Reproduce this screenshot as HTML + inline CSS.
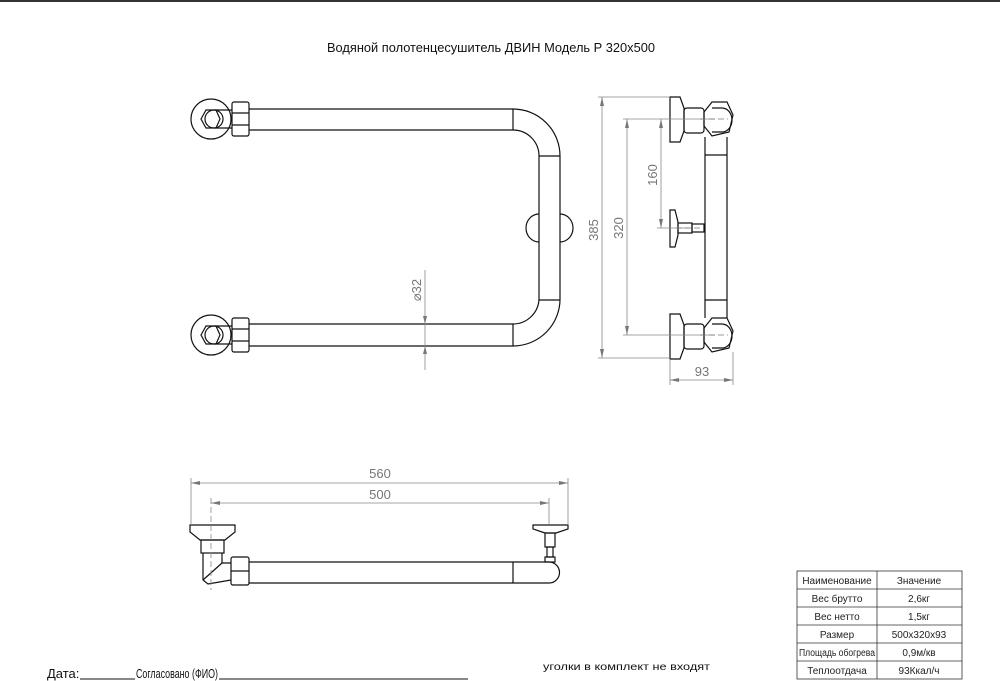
<!DOCTYPE html>
<html><head><meta charset="utf-8"><style>
html,body{margin:0;padding:0;background:#fff;width:1000px;height:681px;overflow:hidden}
svg{display:block}
.t{font-family:"Liberation Sans Narrow","Liberation Sans",sans-serif;}
</style></head><body>
<svg width="1000" height="681" viewBox="0 0 1000 681" xmlns="http://www.w3.org/2000/svg">
<rect x="0" y="0" width="1000" height="2" fill="#333"/>
<text class="t" x="491" y="52" font-size="13" text-anchor="middle" textLength="328" lengthAdjust="spacingAndGlyphs" fill="#111">Водяной полотенцесушитель ДВИН Модель Р 320х500</text>

<g fill="none" stroke="#111" stroke-width="1.2">
<!-- front view -->
<path d="M249 109 H513 A47 47 0 0 1 560 156 V298 A47 47 0 0 1 513 346 H249"/>
<path d="M249 130 H513 A26 26 0 0 1 539 156 V298 A26 26 0 0 1 513 324 H249"/>
<line x1="513" y1="109" x2="513" y2="130"/><line x1="513" y1="324" x2="513" y2="346"/>
<line x1="539" y1="156" x2="560" y2="156"/><line x1="539" y1="300" x2="560" y2="300"/>
<path d="M539 214 A13 14 0 0 0 539 242"/><path d="M560 214 A13 14 0 0 1 560 242"/>
<circle cx="211" cy="119" r="20"/><circle cx="211" cy="335" r="20"/>
<circle cx="214" cy="119" r="9"/><circle cx="214" cy="335" r="9"/>
<polygon points="201,119 206,110 216,110 220,119 216,128 206,128"/>
<polygon points="201,335 206,326 216,326 220,335 216,344 206,344"/>
<rect x="232" y="102" width="17" height="34" rx="2"/><rect x="232" y="318" width="17" height="34" rx="2"/>
<line x1="232" y1="113" x2="249" y2="113"/><line x1="232" y1="125" x2="249" y2="125"/>
<line x1="232" y1="329" x2="249" y2="329"/><line x1="232" y1="341" x2="249" y2="341"/>
<line x1="215" y1="110" x2="232" y2="110"/><line x1="215" y1="128" x2="232" y2="128"/>
<line x1="215" y1="326" x2="232" y2="326"/><line x1="215" y1="344" x2="232" y2="344"/>

<!-- side view -->
<path d="M670 97 H680 L684 108 V131 L680 142 H670 Z"/>
<path d="M670 314 H680 L684 325 V348 L680 359 H670 Z"/>
<rect x="684" y="108" width="20" height="25" rx="3"/><rect x="684" y="324" width="20" height="25" rx="3"/>
<polygon points="704,112 712,102 727,102 733,115 729,132 712,136 704,126"/>
<polygon points="704,328 712,318 727,318 733,331 729,348 712,352 704,342"/>
<path d="M712 108 H722 A10 12 0 0 1 722 132 H712"/><path d="M712 324 H722 A10 12 0 0 1 722 348 H712"/>
<line x1="705" y1="137" x2="705" y2="318"/><line x1="727" y1="137" x2="727" y2="318"/>
<line x1="705" y1="155" x2="727" y2="155"/><line x1="705" y1="300" x2="727" y2="300"/>
<path d="M670 210 H675 L678 222 V235 L675 247 H670 Z"/>
<rect x="678" y="223" width="14" height="10"/><rect x="692" y="224" width="12" height="8"/>

<!-- bottom view -->
<path d="M249 562 H549 A10.5 10.5 0 0 1 549 583 H249"/>
<line x1="513" y1="562" x2="513" y2="583"/>
<rect x="231" y="557" width="18" height="28" rx="2"/>
<line x1="231" y1="571" x2="249" y2="571"/>
<path d="M190 525 H235 V532 L225 540 H200 L190 532 Z"/>
<rect x="201" y="540" width="23" height="13"/>
<path d="M203 553 V580 L208 584 L231 580"/><path d="M222 553 V563 L231 563"/>
<line x1="203" y1="580" x2="222" y2="563"/>
<path d="M533 525 H568 V529 L556 533 H545 L533 529 Z"/>
<rect x="545" y="533" width="10" height="14"/><rect x="547" y="547" width="6" height="10"/>
<rect x="545" y="557" width="10" height="5"/>
</g>

<!-- dimensions -->
<g stroke="#888" stroke-width="0.8" fill="none">
<line x1="425" y1="270" x2="425" y2="370"/>
<line x1="598" y1="97" x2="670" y2="97"/><line x1="598" y1="358" x2="670" y2="358"/>
<line x1="602" y1="97" x2="602" y2="358"/>
<line x1="623" y1="119" x2="715" y2="119"/><line x1="623" y1="335" x2="715" y2="335"/>
<line x1="627" y1="119" x2="627" y2="335"/>
<line x1="657" y1="228" x2="690" y2="228"/>
<line x1="661" y1="119" x2="661" y2="228"/>
<line x1="670" y1="359" x2="670" y2="385"/><line x1="733" y1="352" x2="733" y2="385"/>
<line x1="670" y1="380" x2="733" y2="380"/>
<line x1="191" y1="478" x2="191" y2="525"/><line x1="568" y1="478" x2="568" y2="525"/>
<line x1="191" y1="483" x2="568" y2="483"/>
<line x1="211" y1="498" x2="211" y2="590" stroke-dasharray="6 3"/><line x1="549" y1="498" x2="549" y2="525"/>
<line x1="211" y1="503" x2="549" y2="503"/>
</g>
<g stroke="#777" stroke-width="0.8" stroke-dasharray="6 3">
<line x1="700" y1="119" x2="728" y2="119"/><line x1="700" y1="335" x2="728" y2="335"/>
<line x1="676" y1="228" x2="700" y2="228"/>
</g>
<g fill="#777">
<polygon points="602,97 600,106 604,106"/><polygon points="602,358 600,349 604,349"/>
<polygon points="627,119 625,128 629,128"/><polygon points="627,335 625,326 629,326"/>
<polygon points="661,119 659,128 663,128"/><polygon points="661,228 659,219 663,219"/>
<polygon points="425,324 423,316 427,316"/><polygon points="425,346 423,354 427,354"/>
<polygon points="670,380 679,378 679,382"/><polygon points="733,380 724,378 724,382"/>
<polygon points="191,483 200,481 200,485"/><polygon points="568,483 559,481 559,485"/>
<polygon points="211,503 220,501 220,505"/><polygon points="549,503 540,501 540,505"/>
</g>
<g class="t" fill="#777" font-size="13">
<text transform="translate(598,230) rotate(-90)" text-anchor="middle">385</text>
<text transform="translate(623,228) rotate(-90)" text-anchor="middle">320</text>
<text transform="translate(657,175) rotate(-90)" text-anchor="middle">160</text>
<text transform="translate(421,290) rotate(-90)" text-anchor="middle">⌀32</text>
<text x="702" y="376" text-anchor="middle">93</text>
<text x="380" y="478" text-anchor="middle">560</text>
<text x="380" y="499" text-anchor="middle">500</text>
</g>

<!-- table -->
<g stroke="#333" stroke-width="0.8" fill="none">
<rect x="797" y="571" width="165" height="108"/>
<line x1="877" y1="571" x2="877" y2="679"/>
<line x1="797" y1="589" x2="962" y2="589"/><line x1="797" y1="607" x2="962" y2="607"/>
<line x1="797" y1="625" x2="962" y2="625"/><line x1="797" y1="643" x2="962" y2="643"/>
<line x1="797" y1="661" x2="962" y2="661"/>
</g>
<g class="t" font-size="10" fill="#222" text-anchor="middle">
<text x="837" y="584">Наименование</text><text x="919" y="584">Значение</text>
<text x="837" y="602">Вес брутто</text><text x="919" y="602">2,6кг</text>
<text x="837" y="620">Вес нетто</text><text x="919" y="620">1,5кг</text>
<text x="837" y="638">Размер</text><text x="919" y="638">500х320х93</text>
<text x="837" y="656" textLength="76" lengthAdjust="spacingAndGlyphs">Площадь обогрева</text><text x="919" y="656">0,9м/кв</text>
<text x="837" y="674">Теплоотдача</text><text x="919" y="674">93Ккал/ч</text>
</g>

<g class="t" font-size="13" fill="#111">
<text x="47" y="678">Дата:</text>
<line x1="80" y1="679" x2="135" y2="679" stroke="#111" stroke-width="1"/>
<text x="136" y="678" textLength="82" lengthAdjust="spacingAndGlyphs">Согласовано (ФИО)</text>
<line x1="219" y1="679" x2="468" y2="679" stroke="#111" stroke-width="1"/>
</g>
<text x="543" y="670" font-family="Liberation Sans, sans-serif" font-size="10" fill="#111" textLength="167" lengthAdjust="spacingAndGlyphs">уголки в комплект не  входят</text>
</svg>
</body></html>
